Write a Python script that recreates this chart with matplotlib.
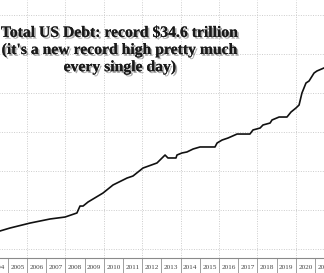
import numpy as np
import matplotlib
matplotlib.use('Agg')
import matplotlib.pyplot as plt
import matplotlib.patheffects as pe
from matplotlib.ticker import FixedLocator, NullFormatter

# total US debt, trillions of dollars
years = [2004.50, 2004.59, 2005.11, 2006.16, 2007.20, 2007.98, 2008.60, 2008.76,
         2008.92, 2009.18, 2009.96, 2010.48, 2011.21, 2011.52, 2012.04, 2012.77,
         2013.19, 2013.34, 2013.76, 2013.81, 2014.07, 2014.33, 2014.65, 2015.01,
         2015.79, 2015.90, 2016.16, 2016.47, 2016.94, 2017.61, 2017.77, 2018.14,
         2018.29, 2018.66, 2018.76, 2019.13, 2019.54, 2019.75, 2020.01, 2020.17,
         2020.32, 2020.53, 2020.69, 2020.95, 2021.10, 2021.47, 2021.60]
debt = [7.25, 7.31, 7.69, 8.33, 8.85, 9.10, 9.62, 10.51,
        10.51, 11.03, 12.18, 13.21, 14.10, 14.36, 15.38, 16.03,
        17.05, 16.67, 16.67, 17.05, 17.31, 17.44, 17.82, 18.08,
        18.08, 18.59, 18.97, 19.23, 19.74, 19.74, 20.26, 20.51,
        20.90, 21.15, 21.54, 21.92, 21.92, 22.56, 23.08, 23.46,
        25.00, 26.28, 26.54, 27.56, 27.82, 28.21, 28.35]

label_years = list(range(2004, 2022))
year_labels = [str(y) for y in label_years]
grid_years = list(range(2002, 2024, 2))
grid_levels = [5, 10, 15, 20, 25, 30, 35]

title = "Total US Debt: record $34.6 trillion\n(it's a new record high pretty much\nevery single day)"

fig = plt.figure(figsize=(3.24, 2.73), dpi=100)
# axes run a little past the figure edges, the chart is a crop
ax = fig.add_axes([-20 / 324, 15 / 273, 364 / 324, 258 / 273])

ax.plot(years, debt, color='#111111', lw=1.2)

ax.set_xlim(2003.552, 2022.51)
ax.set_ylim(3.85, 36.92)

# dotted grid
for g in grid_years:
    ax.axvline(g, color='#cccccc', lw=0.7, ls=(0, (1, 1.5)), zorder=0)
for g in grid_levels:
    ax.axhline(g, color='#cccccc', lw=0.7, ls=(0, (1, 1.5)), zorder=0)

# year labels centred in boxes, separators at the year boundaries
ax.xaxis.set_major_locator(FixedLocator([y + 0.5 for y in label_years]))
ax.set_xticklabels(year_labels)
ax.xaxis.set_minor_locator(FixedLocator(list(range(2003, 2024))))
ax.xaxis.set_minor_formatter(NullFormatter())
ax.tick_params(axis='x', which='major', length=0, pad=5.0, labelsize=5.2,
               labelcolor='#444444')
ax.tick_params(axis='x', which='minor', length=11, width=0.7, color='#a0a0a0',
               direction='out')
for lab in ax.get_xticklabels():
    lab.set_family('Liberation Serif')
ax.set_yticks([])

for s in ['top', 'left', 'right']:
    ax.spines[s].set_visible(False)
ax.spines['bottom'].set_color('#8a8a8a')
ax.spines['bottom'].set_linewidth(0.8)

fig.text(120 / 324, 1 - 50 / 273, title, ha='center', va='center',
         fontsize=11.3, family='Liberation Serif', weight='bold', color='#1a1a1a',
         linespacing=1.1,
         path_effects=[pe.withSimplePatchShadow(offset=(1.3, -1.3),
                                                shadow_rgbFace='#555555', alpha=0.5),
                       pe.Normal()])

fig.savefig('out.png', dpi=100)
plt.close(fig)
